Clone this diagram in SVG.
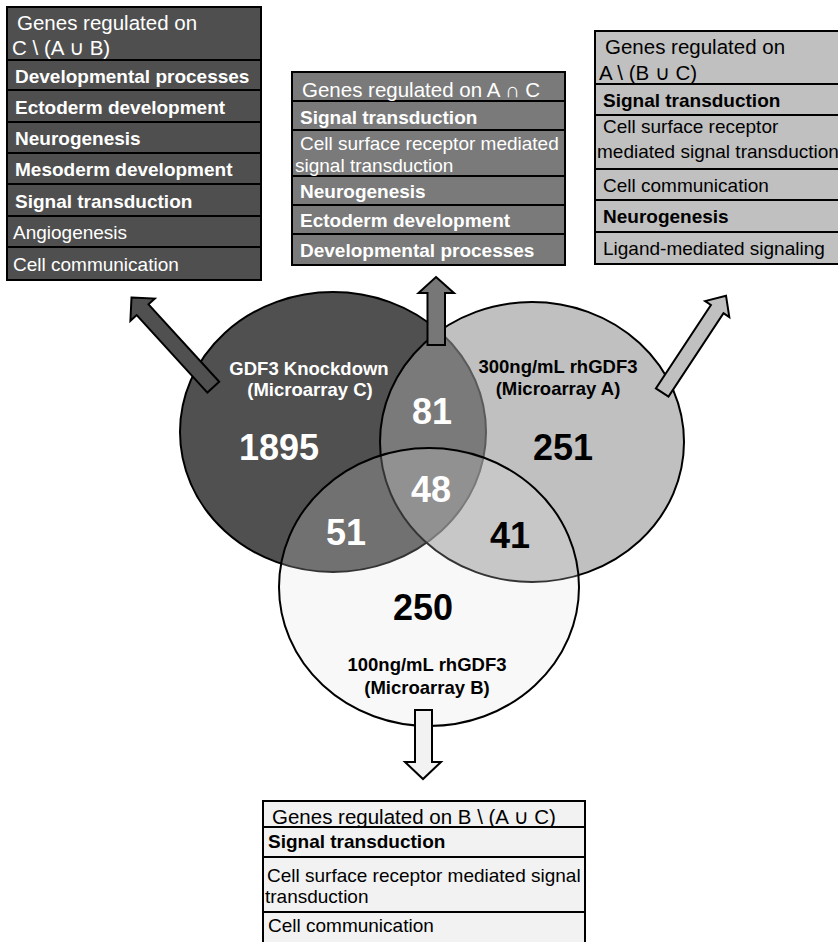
<svg xmlns="http://www.w3.org/2000/svg" width="838" height="942" viewBox="0 0 838 942">
<style>
text{font-family:"Liberation Sans",Arial,"DejaVu Sans",sans-serif}
.hd{font-size:20.5px}
.b{font-size:19px;font-weight:bold}
.n{font-size:19px}
.w{fill:#ffffff}
.k{fill:#000000}
.num{font-size:36px;font-weight:bold;text-anchor:middle}
.lbl{font-size:18.5px;font-weight:bold;text-anchor:middle}
.cell{stroke:#000;stroke-width:2}
.t1{fill:#4f4f4f}
.t2{fill:#7a7a7a}
.t3{fill:#c0c0c0}
.t4{fill:#f2f2f2}
.arr{stroke:#000;stroke-width:2;stroke-linejoin:miter}
.circ{stroke:#000;stroke-width:2}
</style>

<g id="venn">
  <g id="setC"><ellipse class="circ" cx="333" cy="432" rx="153" ry="140" fill="#505050"/></g>
  <g id="setA"><ellipse class="circ" cx="532" cy="442" rx="152" ry="140" fill="#969696" fill-opacity="0.6"/></g>
  <g id="setB"><ellipse class="circ" cx="429" cy="587" rx="150" ry="139" fill="#e0e0e0" fill-opacity="0.23"/></g>
  <g id="labels">
    <text class="lbl w" x="309" y="375">GDF3 Knockdown</text>
    <text class="lbl w" x="310" y="396">(Microarray C)</text>
    <text class="lbl k" x="558" y="373">300ng/mL rhGDF3</text>
    <text class="lbl k" x="558" y="395">(Microarray A)</text>
    <text class="lbl k" x="427" y="671">100ng/mL rhGDF3</text>
    <text class="lbl k" x="427" y="694">(Microarray B)</text>
    <text class="num w" x="279" y="460">1895</text>
    <text class="num w" x="432" y="424">81</text>
    <text class="num w" x="431" y="502">48</text>
    <text class="num k" x="563" y="460">251</text>
    <text class="num k" x="510" y="548">41</text>
    <text class="num w" x="346" y="545">51</text>
    <text class="num k" x="423" y="620">250</text>
  </g>
</g>

<g id="connectors">
  <polygon class="arr" fill="#505050" points="131.5,297.5 154.8,298.6 148.5,304.3 219.2,381.8 207.4,392.6 136.7,315.1 130.4,320.8"/>
  <polygon class="arr" fill="#777777" points="436,277 454,293 445,293 445,345 427.5,345 427.5,293 418.5,293"/>
  <polygon class="arr" fill="#c0c0c0" points="726,295.7 729.3,317.1 723.5,313.2 668.5,396.6 655.9,388.4 710.9,305 705.1,301.1"/>
  <polygon class="arr" fill="#f2f2f2" points="415,710 432,710 432,762 441,762 423,779 405,762 415,762"/>
</g>

<g id="tableC">
  <rect class="cell t1" x="7" y="7" width="254" height="53"/>
  <rect class="cell t1" x="7" y="60" width="254" height="30"/>
  <rect class="cell t1" x="7" y="90" width="254" height="32"/>
  <rect class="cell t1" x="7" y="122" width="254" height="31"/>
  <rect class="cell t1" x="7" y="153" width="254" height="31"/>
  <rect class="cell t1" x="7" y="184" width="254" height="32"/>
  <rect class="cell t1" x="7" y="216" width="254" height="31"/>
  <rect class="cell t1" x="7" y="247" width="254" height="33"/>
  <text class="hd w" x="17" y="30">Genes regulated on</text>
  <text class="hd w" x="12" y="55">C \ (A ∪ B)</text>
  <text class="b w" x="15" y="83">Developmental processes</text>
  <text class="b w" x="15" y="114">Ectoderm development</text>
  <text class="b w" x="15" y="145">Neurogenesis</text>
  <text class="b w" x="15" y="176">Mesoderm development</text>
  <text class="b w" x="15" y="208">Signal transduction</text>
  <text class="n w" x="13" y="239">Angiogenesis</text>
  <text class="n w" x="13" y="271">Cell communication</text>
</g>

<g id="tableAC">
  <rect class="cell t2" x="292" y="72" width="273" height="29"/>
  <rect class="cell t2" x="292" y="101" width="273" height="29"/>
  <rect class="cell t2" x="292" y="130" width="273" height="46"/>
  <rect class="cell t2" x="292" y="176" width="273" height="29"/>
  <rect class="cell t2" x="292" y="205" width="273" height="29"/>
  <rect class="cell t2" x="292" y="234" width="273" height="31"/>
  <text class="hd w" x="302" y="97">Genes regulated on A ∩ C</text>
  <text class="b w" x="300" y="124">Signal transduction</text>
  <text class="n w" x="300" y="150">Cell surface receptor mediated</text>
  <text class="n w" x="295" y="172">signal transduction</text>
  <text class="b w" x="300" y="198">Neurogenesis</text>
  <text class="b w" x="300" y="227">Ectoderm development</text>
  <text class="b w" x="300" y="257">Developmental processes</text>
</g>

<g id="tableA">
  <rect class="cell t3" x="595" y="31" width="248" height="53"/>
  <rect class="cell t3" x="595" y="84" width="248" height="31"/>
  <rect class="cell t3" x="595" y="115" width="248" height="54"/>
  <rect class="cell t3" x="595" y="169" width="248" height="31"/>
  <rect class="cell t3" x="595" y="200" width="248" height="32"/>
  <rect class="cell t3" x="595" y="232" width="248" height="32"/>
  <text class="hd k" x="605" y="54">Genes regulated on</text>
  <text class="hd k" x="599" y="80">A \ (B ∪ C)</text>
  <text class="b k" x="603" y="107">Signal transduction</text>
  <text class="n k" x="603" y="133">Cell surface receptor</text>
  <text class="n k" x="597" y="158">mediated signal transduction</text>
  <text class="n k" x="603" y="192">Cell communication</text>
  <text class="b k" x="603" y="223">Neurogenesis</text>
  <text class="n k" x="603" y="255">Ligand-mediated signaling</text>
</g>

<g id="tableB">
  <rect class="cell t4" x="263" y="801" width="322" height="26"/>
  <rect class="cell t4" x="263" y="827" width="322" height="30"/>
  <rect class="cell t4" x="263" y="857" width="322" height="55"/>
  <rect class="cell t4" x="263" y="912" width="322" height="40"/>
  <text class="hd k" x="272" y="824">Genes regulated on B \ (A ∪ C)</text>
  <text class="b k" x="268" y="848">Signal transduction</text>
  <text class="n k" x="267" y="882">Cell surface receptor mediated signal</text>
  <text class="n k" x="265" y="903">transduction</text>
  <text class="n k" x="268" y="932">Cell communication</text>
</g>
</svg>
